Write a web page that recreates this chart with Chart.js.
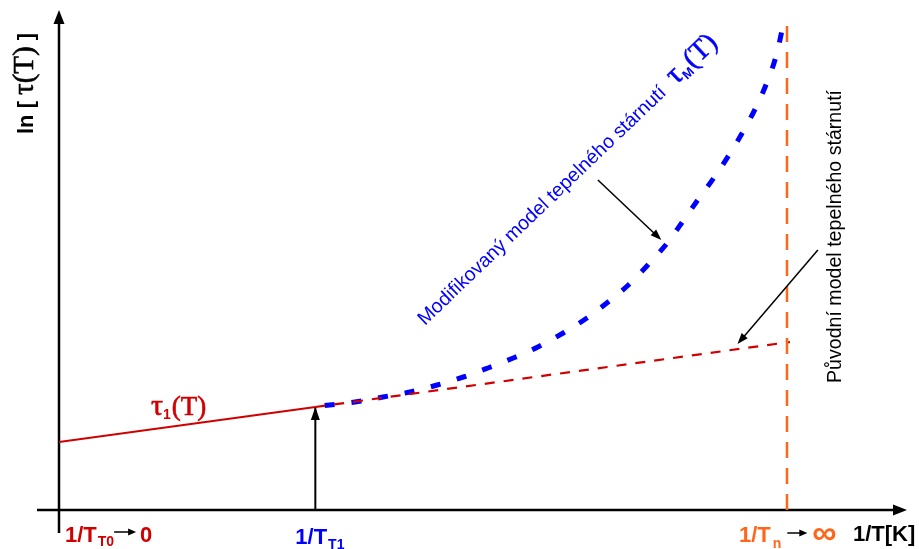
<!DOCTYPE html>
<html>
<head>
<meta charset="utf-8">
<script src="https://cdn.jsdelivr.net/npm/chart.js@4/dist/chart.umd.min.js"></script>
<style>
  body { margin: 0; background: #fff; }
</style>
</head>
<body>
<canvas id="agingChart" width="919" height="549"></canvas>
<script>
// schematic units: x = 1/T (0..100), y = ln tau (0..100)
var t1X = [0, 30.3];
var t1Y = [13.6, 20.6];
var origX = [30.3, 86.4];
var origY = [20.6, 33.6];
var modX = [31.4, 35.0, 38.3, 41.5, 44.7, 47.8, 50.7, 53.7, 56.6, 59.6, 62.4, 64.9, 67.3, 69.6, 71.9, 73.6, 75.5, 77.4, 79.2, 80.9, 82.4, 83.7, 84.8, 85.6];
var modY = [20.9, 21.6, 22.6, 23.6, 25.0, 26.6, 28.4, 30.4, 32.6, 35.4, 38.4, 41.6, 45.0, 49.0, 53.4, 57.4, 62.0, 66.4, 71.0, 75.8, 80.6, 85.6, 91.0, 97.0];
var limitX = [86.05, 86.05];
var limitY = [0, 97];
var markX = [30.3, 30.3];
var markY = [0, 20.6];
var tickX = [0, 30.3, 86.05];

var red = '#d00000';
var blue = '#0000ff';
var orange = '#ff6619';
var serif = '"Liberation Serif", "Times New Roman"';
var sans = '"Liberation Sans", Arial';

function pts(xs, ys) {
    return xs.map(function (x, i) { return { x: x, y: ys[i] }; });
}

function arrowHead(ctx, x1, y1, x2, y2, len, wid) {
    var a = Math.atan2(y2 - y1, x2 - x1);
    ctx.beginPath();
    ctx.moveTo(x2, y2);
    ctx.lineTo(x2 - len * Math.cos(a) + wid * Math.sin(a), y2 - len * Math.sin(a) - wid * Math.cos(a));
    ctx.lineTo(x2 - len * Math.cos(a) - wid * Math.sin(a), y2 - len * Math.sin(a) + wid * Math.cos(a));
    ctx.closePath();
    ctx.fill();
}

function arrow(ctx, x1, y1, x2, y2, w, len, wid) {
    var a = Math.atan2(y2 - y1, x2 - x1);
    ctx.lineWidth = w;
    ctx.beginPath();
    ctx.moveTo(x1, y1);
    ctx.lineTo(x2 - len * 0.7 * Math.cos(a), y2 - len * 0.7 * Math.sin(a));
    ctx.stroke();
    arrowHead(ctx, x1, y1, x2, y2, len, wid);
}

// draws text pieces one after another, returns end x
function rich(ctx, parts, x, y) {
    parts.forEach(function (p) {
        ctx.font = p.font;
        ctx.fillStyle = p.color;
        x += p.gap || 0;
        ctx.fillText(p.text, x, y + (p.dy || 0));
        if (p.heavy) {
            ctx.lineWidth = 0.6;
            ctx.strokeStyle = p.color;
            ctx.strokeText(p.text, x, y + (p.dy || 0));
        }
        x += ctx.measureText(p.text).width;
    });
    return x;
}

var decor = {
    id: 'decor',
    beforeDatasetsDraw: function (chart) {
        var ctx = chart.ctx;
        var xs = chart.scales.x, ys = chart.scales.y;
        var x0 = xs.getPixelForValue(0), y0 = ys.getPixelForValue(0);
        ctx.save();
        ctx.strokeStyle = '#000';
        ctx.fillStyle = '#000';
        ctx.lineWidth = 2.5;
        // y axis
        ctx.beginPath();
        ctx.moveTo(x0, 533);
        ctx.lineTo(x0, 22);
        ctx.stroke();
        arrowHead(ctx, x0, 100, x0, 10, 14, 5.5);
        // x axis
        ctx.beginPath();
        ctx.moveTo(37, y0);
        ctx.lineTo(895, y0);
        ctx.stroke();
        arrowHead(ctx, 800, y0, 907, y0, 14, 5.5);
        ctx.restore();
    },
    afterDraw: function (chart) {
        var ctx = chart.ctx;
        var xs = chart.scales.x, ys = chart.scales.y;
        var px = function (v) { return xs.getPixelForValue(v); };
        var py = function (v) { return ys.getPixelForValue(v); };
        ctx.save();
        ctx.textBaseline = 'alphabetic';
        ctx.strokeStyle = '#000';
        ctx.fillStyle = '#000';

        // marker arrow head at tau1(T_T1)
        arrowHead(ctx, px(markX[0]), py(0), px(markX[1]), py(markY[1]), 13, 4.5);

        // annotation arrows
        arrow(ctx, px(63.7), py(66), px(71.2), py(54.0), 1.5, 11, 4);
        arrow(ctx, px(89.7), py(52), px(80.2), py(33.2), 1.5, 11, 4);

        // y axis title
        ctx.save();
        ctx.translate(33, 134);
        ctx.rotate(-Math.PI / 2);
        rich(ctx, [
            { text: 'ln [', font: 'bold 22px ' + sans, color: '#000' },
            { text: 'τ(T)', font: '29px ' + serif, color: '#000', gap: 6, heavy: true },
            { text: ']', font: 'bold 22px ' + sans, color: '#000', gap: 6 }
        ], 0, 0);
        ctx.restore();

        // bottom labels
        var bold = 'bold 22px ' + sans;
        var sub = 'bold 14px ' + sans;
        var e = rich(ctx, [
            { text: '1/T', font: bold, color: red },
            { text: 'T0', font: sub, color: red, dy: 4, gap: 1 }
        ], px(tickX[0]) + 6, 542);
        ctx.fillStyle = '#000';
        arrow(ctx, e + 0, 532, e + 22, 532, 1.5, 8, 3.5);
        rich(ctx, [{ text: '0', font: bold, color: red }], e + 26, 542);

        rich(ctx, [
            { text: '1/T', font: bold, color: blue },
            { text: 'T1', font: sub, color: blue, dy: 5, gap: 1 }
        ], px(tickX[1]) - 20, 544);

        e = rich(ctx, [
            { text: '1/T', font: bold, color: orange },
            { text: 'n', font: sub, color: orange, dy: 6, gap: 2 }
        ], px(tickX[2]) - 48, 542);
        ctx.fillStyle = '#000';
        arrow(ctx, e + 6, 533, e + 26, 533, 1.5, 8, 3.5);
        rich(ctx, [{ text: '∞', font: 'bold 34px ' + sans, color: orange }], e + 31, 544);
        rich(ctx, [{ text: '1/T[K]', font: bold, color: '#000' }], 853, 541);

        // tau1 label
        rich(ctx, [
            { text: 'τ', font: '30px ' + serif, color: red, heavy: true },
            { text: '1', font: 'bold 14px ' + sans, color: red, dy: 4 },
            { text: '(T)', font: '27px ' + serif, color: red, gap: 1, heavy: true }
        ], 151, 415);

        // modified model label, along the curve
        ctx.save();
        ctx.translate(425, 326);
        ctx.rotate(-43.8 * Math.PI / 180);
        var s1 = 'Modifikovaný model tepelného stárnutí';
        ctx.font = '18px ' + sans;
        var fs = 18 * 336 / ctx.measureText(s1).width;
        rich(ctx, [
            { text: s1, font: fs.toFixed(1) + 'px ' + sans, color: blue },
            { text: 'τ', font: '30px ' + serif, color: blue, gap: 12, heavy: true },
            { text: 'M', font: 'bold 13px ' + sans, color: blue, dy: 4 },
            { text: '(T)', font: '28px ' + serif, color: blue, gap: 1, heavy: true }
        ], 0, 0);
        ctx.restore();

        // original model label, vertical
        ctx.save();
        ctx.translate(841, 383);
        ctx.rotate(-Math.PI / 2);
        var s2 = 'Původní model tepelného stárnutí';
        ctx.font = '17px ' + sans;
        var fs2 = 17 * 293 / ctx.measureText(s2).width;
        ctx.font = fs2.toFixed(1) + 'px ' + sans;
        ctx.fillStyle = '#000';
        ctx.fillText(s2, 0, 0);
        ctx.restore();

        ctx.restore();
    }
};

new Chart(document.getElementById('agingChart').getContext('2d'), {
    type: 'scatter',
    data: {
        datasets: [{
            label: 'limit',
            data: pts(limitX, limitY),
            showLine: true,
            borderColor: orange,
            borderWidth: 2.5,
            borderDash: [16, 10],
            pointRadius: 0
        }, {
            label: 'original',
            data: pts(origX, origY),
            showLine: true,
            borderColor: red,
            borderWidth: 2.2,
            borderDash: [10, 9],
            pointRadius: 0
        }, {
            label: 'tau1',
            data: pts(t1X, t1Y),
            showLine: true,
            borderColor: red,
            borderWidth: 2.2,
            pointRadius: 0
        }, {
            label: 'modified',
            data: pts(modX, modY),
            showLine: true,
            borderColor: blue,
            borderWidth: 5,
            borderDash: [10, 17],
            borderCapStyle: 'butt',
            cubicInterpolationMode: 'monotone',
            pointRadius: 0
        }, {
            label: 'mark',
            data: pts(markX, markY),
            showLine: true,
            borderColor: '#000',
            borderWidth: 2,
            pointRadius: 0
        }]
    },
    options: {
        responsive: false,
        devicePixelRatio: 1,
        animation: false,
        layout: { padding: { left: 59, right: 14, top: 10, bottom: 39 } },
        plugins: { legend: { display: false }, tooltip: { enabled: false } },
        scales: {
            x: { type: 'linear', min: 0, max: 100, display: false },
            y: { type: 'linear', min: 0, max: 100, display: false }
        }
    },
    plugins: [decor]
});
</script>
</body>
</html>
